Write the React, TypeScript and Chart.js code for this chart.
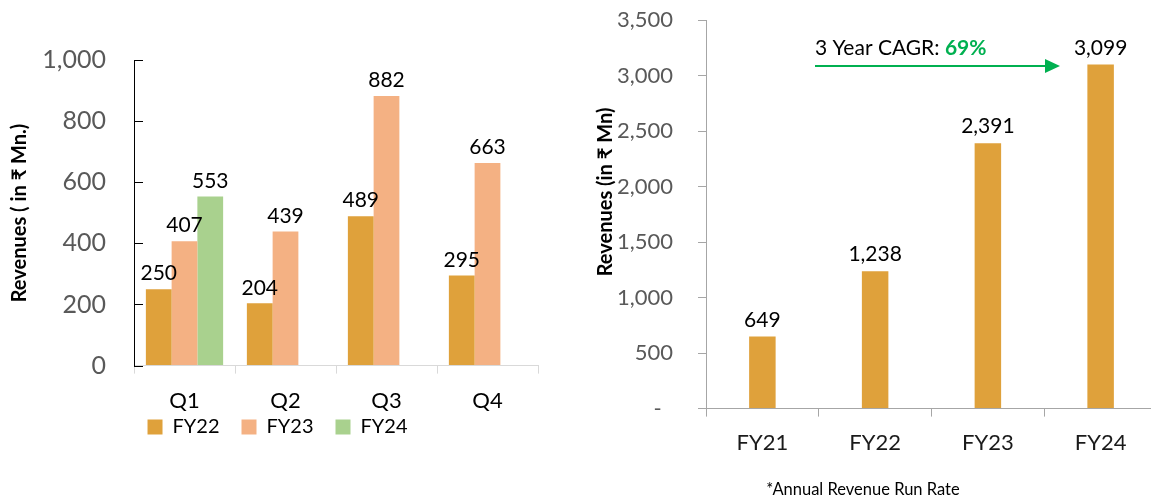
import React, { useEffect, useRef } from "react";
import { Chart, registerables } from "chart.js";

Chart.register(...registerables);

// ---- data ----
const quarters = ["Q1", "Q2", "Q3", "Q4"];
const fy22Quarterly = [250, 204, 489, 295];
const fy23Quarterly = [407, 439, 882, 663];
const fy24Quarterly = [553, null, null, null];
const quarterSeriesNames = ["FY22", "FY23", "FY24"];
const leftTicks = [0, 200, 400, 600, 800, 1000];

const years = ["FY21", "FY22", "FY23", "FY24"];
const annualRevenue = [649, 1238, 2391, 3099];
const rightTicks = [0, 500, 1000, 1500, 2000, 2500, 3000, 3500];

const leftTitle = "Revenues ( in ₹ Mn.)";
const rightTitle = "Revenues (in ₹ Mn)";
const cagrLabel = "3 Year CAGR: ";
const cagrValue = "69%";
const footnote = "*Annual Revenue Run Rate";

// ---- styles ----
const FONT = "Lato, 'Open Sans', 'DejaVu Sans', sans-serif";
const GOLD = "#DFA13B";
const PEACH = "#F4B183";
const GREEN = "#A9D18E";
const CAGR_GREEN = "#00B050";
const TICK_GRAY = "#595959";

const fmt = (v: number) => v.toLocaleString("en-US");

const valueLabels = (size: number, offset: number) => ({
  id: "valueLabels",
  afterDatasetsDraw(chart: any) {
    const ctx = chart.ctx;
    ctx.save();
    ctx.font = `${size}px ${FONT}`;
    ctx.fillStyle = "#000";
    ctx.textAlign = "center";
    ctx.textBaseline = "bottom";
    chart.data.datasets.forEach((ds: any, i: number) => {
      const meta = chart.getDatasetMeta(i);
      meta.data.forEach((el: any, j: number) => {
        const v = ds.data[j];
        if (v == null) return;
        ctx.fillText(fmt(v), el.x, el.y - offset);
      });
    });
    ctx.restore();
  },
});

const rotatedTitle = (text: string, x: number, y: number) => ({
  id: "rotTitle",
  afterDraw(chart: any) {
    const ctx = chart.ctx;
    ctx.save();
    ctx.translate(x, y);
    ctx.rotate(-Math.PI / 2);
    ctx.font = `bold 20px ${FONT}`;
    ctx.fillStyle = "#000";
    ctx.textAlign = "center";
    ctx.textBaseline = "middle";
    ctx.fillText(text, 0, 0);
    ctx.restore();
  },
});

const insideYTicks = {
  id: "insideYTicks",
  afterDraw(chart: any) {
    const ctx = chart.ctx;
    const s = chart.scales.y;
    const left = chart.chartArea.left;
    ctx.save();
    ctx.strokeStyle = "#000";
    ctx.lineWidth = 1;
    s.ticks.forEach((t: any) => {
      const py = Math.round(s.getPixelForValue(t.value)) + 0.5;
      ctx.beginPath();
      ctx.moveTo(left, py);
      ctx.lineTo(left + 9, py);
      ctx.stroke();
    });
    ctx.restore();
  },
};

const legendShift = {
  id: "legendShift",
  afterLayout(chart: any) {
    const l = chart.legend;
    if (l) {
      l.top -= 33;
      l.bottom -= 33;
    }
  },
};

const rightExtras = {
  id: "rightExtras",
  afterDraw(chart: any) {
    const ctx = chart.ctx;
    ctx.save();
    // CAGR text
    ctx.font = `21px ${FONT}`;
    ctx.fillStyle = "#000";
    ctx.textAlign = "left";
    ctx.textBaseline = "middle";
    const tx = 255;
    const ty = 48;
    ctx.fillText(cagrLabel, tx, ty);
    const w = ctx.measureText(cagrLabel).width;
    ctx.font = `bold 21px ${FONT}`;
    ctx.fillStyle = CAGR_GREEN;
    ctx.fillText(cagrValue, tx + w, ty);
    // arrow
    const ay = 66;
    const x0 = 255;
    const x1 = 500;
    ctx.strokeStyle = CAGR_GREEN;
    ctx.lineWidth = 2;
    ctx.beginPath();
    ctx.moveTo(x0, ay);
    ctx.lineTo(x1 - 14, ay);
    ctx.stroke();
    ctx.fillStyle = CAGR_GREEN;
    ctx.beginPath();
    ctx.moveTo(x1, ay);
    ctx.lineTo(x1 - 15, ay - 7);
    ctx.lineTo(x1 - 15, ay + 7);
    ctx.closePath();
    ctx.fill();
    // footnote
    ctx.font = `16.5px ${FONT}`;
    ctx.fillStyle = "#000";
    ctx.textAlign = "center";
    ctx.textBaseline = "middle";
    ctx.fillText(footnote, 303, 490);
    ctx.restore();
  },
};

export default function App() {
  const leftRef = useRef<HTMLCanvasElement>(null);
  const rightRef = useRef<HTMLCanvasElement>(null);

  useEffect(() => {
    Chart.defaults.font.family = FONT;

    const left = new Chart(leftRef.current!, {
      type: "bar",
      data: {
        labels: quarters,
        datasets: [
          { label: quarterSeriesNames[0], data: fy22Quarterly, backgroundColor: GOLD },
          { label: quarterSeriesNames[1], data: fy23Quarterly, backgroundColor: PEACH },
          { label: quarterSeriesNames[2], data: fy24Quarterly as any, backgroundColor: GREEN },
        ],
      },
      options: {
        responsive: false,
        animation: false,
        layout: { padding: { top: 60, right: 17, bottom: 0, left: 17 } },
        datasets: { bar: { categoryPercentage: 0.765, barPercentage: 1 } },
        plugins: {
          legend: {
            position: "bottom",
            labels: {
              boxWidth: 15,
              boxHeight: 15,
              padding: 22,
              color: "#000",
              font: { size: 20, family: FONT },
            },
          },
          tooltip: { enabled: false },
        },
        scales: {
          x: {
            grid: { display: true, drawOnChartArea: false, drawTicks: true, tickLength: 8, color: "#d9d9d9", offset: true },
            border: { display: true, color: "#d9d9d9" },
            ticks: { color: "#000", font: { size: 22 }, padding: 14 },
          },
          y: {
            min: 0,
            max: 1000,
            afterBuildTicks: (s: any) => { s.ticks = leftTicks.map((v) => ({ value: v })); },
            grid: { display: true, drawOnChartArea: false, drawTicks: false },
            border: { display: true, color: "#000", width: 1 },
            ticks: { color: TICK_GRAY, font: { size: 25 }, padding: 28, callback: (v: any) => fmt(Number(v)) },
            afterFit: (s: any) => { s.width = 117; s.paddingTop = 15; s.paddingBottom = 15; },
          },
        },
      },
      plugins: [valueLabels(21, 5), insideYTicks, legendShift, rotatedTitle(leftTitle, 20, 213)],
    });

    const right = new Chart(rightRef.current!, {
      type: "bar",
      data: {
        labels: years,
        datasets: [{ label: "Revenue", data: annualRevenue, backgroundColor: GOLD }],
      },
      options: {
        responsive: false,
        animation: false,
        layout: { padding: { top: 20, right: 3, bottom: 31, left: 0 } },
        datasets: { bar: { categoryPercentage: 0.235, barPercentage: 1 } },
        plugins: { legend: { display: false }, tooltip: { enabled: false } },
        scales: {
          x: {
            grid: { display: true, drawOnChartArea: false, drawTicks: true, tickLength: 8, color: "#a6a6a6", offset: true },
            border: { display: true, color: "#a6a6a6" },
            ticks: { color: "#1a1a1a", font: { size: 22 }, padding: 13 },
          },
          y: {
            min: 0,
            max: 3500,
            afterBuildTicks: (s: any) => { s.ticks = rightTicks.map((v) => ({ value: v })); },
            grid: { display: true, drawOnChartArea: false, drawTicks: true, tickLength: 8, color: "#a6a6a6" },
            border: { display: true, color: "#a6a6a6" },
            ticks: {
              color: TICK_GRAY,
              font: { size: 22 },
              padding: 25,
              callback: (v: any) => (Number(v) === 0 ? "-  " : fmt(Number(v))),
            },
            afterFit: (s: any) => { s.width = 146; s.paddingTop = 14; s.paddingBottom = 14; },
          },
        },
      },
      plugins: [valueLabels(21, 6), rotatedTitle(rightTitle, 46, 192), rightExtras],
    });

    return () => {
      left.destroy();
      right.destroy();
    };
  }, []);

  return (
    <div style={{ position: "absolute", left: 0, top: 0, width: 1151, height: 500, overflow: "hidden", background: "#fff" }}>
      <canvas ref={leftRef} width={555} height={480} style={{ position: "absolute", left: 0, top: 0 }} />
      <canvas ref={rightRef} width={600} height={500} style={{ position: "absolute", left: 560, top: 0 }} />
    </div>
  );
}
